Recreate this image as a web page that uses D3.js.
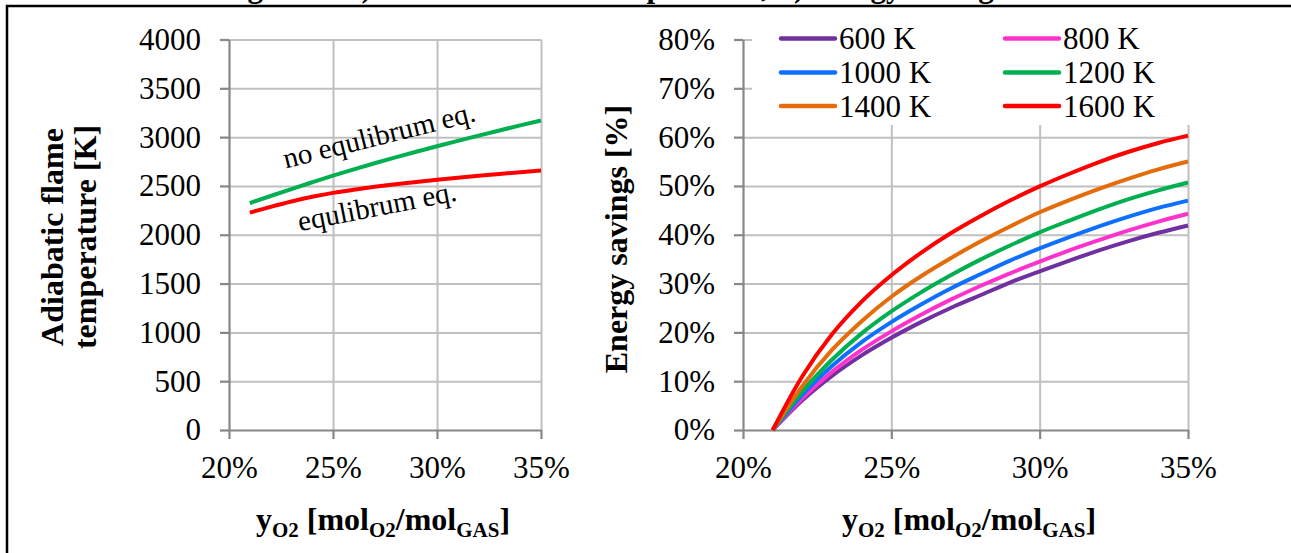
<!DOCTYPE html>
<html><head><meta charset="utf-8">
<script src="https://cdn.jsdelivr.net/npm/d3@7"></script>
<style>
html,body{margin:0;padding:0;background:#fff;}
svg{display:block;}
svg text, svg .tick text{font-family:"Liberation Serif","Times New Roman",serif !important;fill:#000;}
</style></head><body>
<svg id="chart" width="1291" height="553"></svg>
<script>
// ---------------- data ----------------
const yO2 = [0.21,0.22,0.23,0.24,0.25,0.26,0.27,0.28,0.29,0.30,0.31,0.32,0.33,0.34,0.35];
// Left chart: adiabatic flame temperature [K]
const tempNoEquilibrium = [2325,2397,2468,2538,2606,2670,2732,2792,2850,2906,2961,3015,3068,3120,3171];
const tempEquilibrium   = [2226,2286,2341,2389,2429,2462,2491,2517,2541,2563,2584,2604,2623,2641,2658];
const tempTicks = [0,500,1000,1500,2000,2500,3000,3500,4000];
const xTicks = [0.20,0.25,0.30,0.35];
const xTickLabels = ["20%","25%","30%","35%"];
// Right chart: energy savings
const savingsTicks = [0,0.1,0.2,0.3,0.4,0.5,0.6,0.7,0.8];
const savingsTickLabels = ["0%","10%","20%","30%","40%","50%","60%","70%","80%"];
const seriesNames  = ["600 K","800 K","1000 K","1200 K","1400 K","1600 K"];
const seriesColors = ["#7030a0","#ff33cc","#0f6fff","#00b050","#e46c0a","#ff0000"];
const s600  = [0,0.061,0.111,0.153,0.189,0.221,0.250,0.276,0.302,0.325,0.347,0.368,0.387,0.404,0.419];
const s800  = [0,0.065,0.119,0.164,0.202,0.236,0.267,0.295,0.321,0.345,0.368,0.389,0.409,0.427,0.443];
const s1000 = [0,0.072,0.131,0.180,0.221,0.257,0.290,0.319,0.347,0.372,0.395,0.417,0.437,0.455,0.470];
const s1200 = [0,0.079,0.144,0.198,0.243,0.282,0.317,0.349,0.378,0.405,0.429,0.452,0.473,0.491,0.507];
const s1400 = [0,0.090,0.164,0.223,0.273,0.315,0.352,0.386,0.417,0.446,0.471,0.494,0.515,0.534,0.550];
const s1600 = [0,0.110,0.196,0.263,0.317,0.363,0.403,0.438,0.470,0.499,0.525,0.549,0.570,0.588,0.603];
const savingsSeries = [s600,s800,s1000,s1200,s1400,s1600];
const captionText = "Figure 2. a) Adiabatic flame temperature, b) energy savings";

// ---------------- drawing ----------------
const svg = d3.select("#chart");
const AXIS = "#878787", GRID = "#c0c0c0";
const SERIF = "Liberation Serif, Times New Roman, serif";

// frame + clipped caption
svg.append("text").attr("x",220).attr("y",-3).attr("font-family",SERIF).style("font-size","31px").style("font-weight","bold").text(captionText);
svg.append("path").attr("d","M7,553V6H1291").attr("fill","none").attr("stroke","#000").attr("stroke-width",2.5);

function panel(x, y, yTickVals, yLabels, legend) {
  const g = svg.append("g");
  const [xa, xb] = x.range();
  const [ya, yb] = y.range();
  // horizontal grid
  const gy = g.append("g").attr("transform",`translate(${xa},0)`)
    .call(d3.axisLeft(y).tickValues(yTickVals.slice(1)).tickSize(-(xb-xa)).tickFormat(""));
  gy.select(".domain").remove();
  gy.selectAll("line").attr("stroke",GRID).attr("stroke-width",2);
  // vertical grid
  const gx = g.append("g").attr("transform",`translate(0,${ya})`)
    .call(d3.axisBottom(x).tickValues(xTicks.slice(1)).tickSize(-(ya-yb)).tickFormat(""));
  gx.select(".domain").remove();
  gx.selectAll("line").attr("stroke",GRID).attr("stroke-width",2);
  if (legend) legend(g);
  // axes
  const ay = g.append("g").attr("transform",`translate(${xa},0)`)
    .call(d3.axisLeft(y).tickValues(yTickVals).tickSize(9).tickSizeOuter(0).tickPadding(19).tickFormat((d,i)=>yLabels[i]));
  const ax = g.append("g").attr("transform",`translate(0,${ya})`)
    .call(d3.axisBottom(x).tickValues(xTicks).tickSize(9).tickSizeOuter(0).tickPadding(17).tickFormat((d,i)=>xTickLabels[i]));
  [ay,ax].forEach(a=>{
    a.attr("font-family",SERIF).attr("font-size",31);
    a.select(".domain").attr("stroke",AXIS).attr("stroke-width",2.2);
    a.selectAll(".tick line").attr("stroke",AXIS).attr("stroke-width",2.2);
    a.selectAll(".tick text").attr("font-family",SERIF).attr("font-size",31).attr("fill","#000");
  });
  return g;
}

function xTitle(cx) {
  const t = svg.append("text").attr("x",cx).attr("y",530).attr("text-anchor","middle")
    .attr("font-family",SERIF).style("font-size","32px").style("font-weight","bold");
  t.append("tspan").text("y");
  t.append("tspan").style("font-size","21px").attr("dy",7).text("O2");
  t.append("tspan").attr("dy",-7).text(" [mol");
  t.append("tspan").style("font-size","21px").attr("dy",7).text("O2");
  t.append("tspan").attr("dy",-7).text("/mol");
  t.append("tspan").style("font-size","21px").attr("dy",7).text("GAS");
  t.append("tspan").attr("dy",-7).text("]");
}

// ---- Left chart ----
const xL = d3.scaleLinear().domain([0.20,0.35]).range([229,541]);
const yL = d3.scaleLinear().domain([0,4000]).range([430,39.5]);
const gL = panel(xL, yL, tempTicks, tempTicks.map(String));
const lineL = d3.line().x((d,i)=>xL(yO2[i])).y(d=>yL(d)).curve(d3.curveMonotoneX);
gL.append("path").datum(tempNoEquilibrium).attr("d",lineL).attr("fill","none").attr("stroke","#00b050").attr("stroke-width",4);
gL.append("path").datum(tempEquilibrium).attr("d",lineL).attr("fill","none").attr("stroke","#ff0000").attr("stroke-width",4);
gL.append("text").attr("transform","translate(379,135) rotate(-14)").attr("text-anchor","middle")
  .attr("dominant-baseline","central").style("font-size","29px").text("no equlibrum eq.");
gL.append("text").attr("transform","translate(377,206) rotate(-11)").attr("text-anchor","middle")
  .attr("dominant-baseline","central").style("font-size","29px").text("equlibrum eq.");
svg.append("text").attr("transform","translate(63,237) rotate(-90)").attr("text-anchor","middle")
  .style("font-size","32px").style("font-weight","bold").text("Adiabatic flame");
svg.append("text").attr("transform","translate(96,237) rotate(-90)").attr("text-anchor","middle")
  .style("font-size","32px").style("font-weight","bold").text("temperature [K]");
xTitle(383);

// ---- Right chart ----
const xR = d3.scaleLinear().domain([0.20,0.35]).range([743,1188]);
const yR = d3.scaleLinear().domain([0,0.8]).range([430,39.5]);
const legendCols = [781,1005], legendRows = [38.5,72.5,106];
const gR = panel(xR, yR, savingsTicks, savingsTickLabels, g=>{
  g.append("rect").attr("x",752).attr("y",20).attr("width",445).attr("height",105).attr("fill","#fff");
  const items = g.selectAll("g.leg").data(seriesNames).join("g").attr("class","leg")
    .attr("transform",(d,i)=>`translate(${legendCols[i%2]},${legendRows[Math.floor(i/2)]})`);
  items.append("line").attr("x1",0).attr("x2",54).attr("stroke",(d,i)=>seriesColors[i])
    .attr("stroke-width",4.5).attr("stroke-linecap","round");
  items.append("text").attr("x",58).attr("dominant-baseline","central").style("font-size","31px").text(d=>d);
});
const lineR = d3.line().x((d,i)=>xR(yO2[i])).y(d=>yR(d)).curve(d3.curveMonotoneX);
gR.selectAll("path.series").data(savingsSeries).join("path").attr("class","series")
  .attr("d",lineR).attr("fill","none").attr("stroke",(d,i)=>seriesColors[i]).attr("stroke-width",4);
svg.append("text").attr("transform","translate(627,239) rotate(-90)").attr("text-anchor","middle")
  .style("font-size","32px").style("font-weight","bold").text("Energy savings [%]");
xTitle(969);
</script>
</body></html>
